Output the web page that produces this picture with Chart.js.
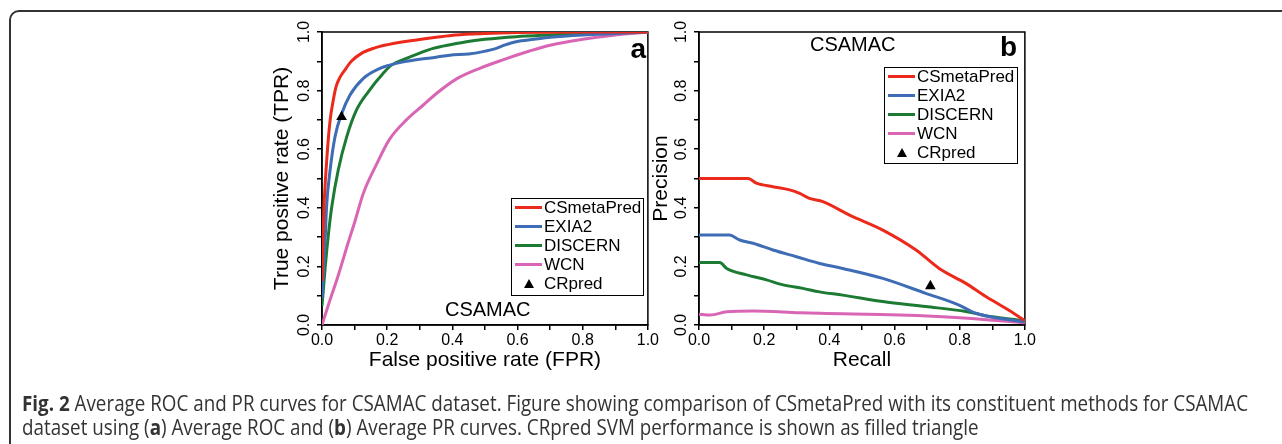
<!DOCTYPE html>
<html>
<head>
<meta charset="utf-8">
<script src="https://cdn.jsdelivr.net/npm/chart.js@4"></script>
<style>
  body { margin:0; width:1282px; height:444px; overflow:hidden; background:#fff; position:relative;
         font-family:"Liberation Sans", Arial, sans-serif; }
  #box { position:absolute; left:9px; top:10px; width:1400px; height:600px; border:2px solid #333; border-radius:10px; }
  .plot { position:absolute; top:20px; width:430px; height:375px; }
  .txt { position:absolute; white-space:nowrap; color:#000; }
  .legend { position:absolute; border:1.5px solid #000; box-sizing:border-box; background:#fff; }
  .row { position:absolute; left:0; height:19px; line-height:19px; font-size:17px; white-space:nowrap; }
  .sw { position:absolute; top:8px; left:3px; width:27px; height:3px; }
  .tri { position:absolute; top:5px; left:12px; width:0; height:0; border-left:5.5px solid transparent;
         border-right:5.5px solid transparent; border-bottom:9px solid #000; }
  .lab { position:absolute; left:32px; top:0; }
  #cap { position:absolute; left:22px; top:392px; font-family:"Open Sans", sans-serif; font-size:21px;
         line-height:23.5px; color:#333; white-space:nowrap; transform-origin:0 0; }
</style>
</head>
<body>
<div id="box"></div>
<div class="plot" style="left:230px"><canvas id="roc"></canvas></div>
<div class="plot" style="left:607px"><canvas id="pr"></canvas></div>
<div id="cap"><span id="l1"><b>Fig. 2</b> Average ROC and PR curves for CSAMAC dataset. Figure showing comparison of CSmetaPred with its constituent methods for CSAMAC</span><br><span id="l2">dataset using (<b>a</b>) Average ROC and (<b>b</b>) Average PR curves. CRpred SVM performance is shown as filled triangle</span></div>
<script>
const FONT = "'Liberation Sans', Arial, sans-serif";
Chart.defaults.font.family = FONT;
Chart.defaults.color = '#000';

const methods = ['CSmetaPred', 'EXIA2', 'DISCERN', 'WCN'];
const colors = ['#ec2a1c', '#3e6db5', '#1c7a33', '#d966b4'];
const tickLabels = ['0.0', '0.2', '0.4', '0.6', '0.8', '1.0'];

// ROC curves (a)
const rocMetaFpr = [0, 0.003, 0.006, 0.016, 0.025, 0.035, 0.043, 0.055, 0.07, 0.09, 0.121, 0.16, 0.198, 0.25, 0.29, 0.35, 0.41, 0.5, 0.6, 0.8, 1.0];
const rocMetaTpr = [0.15, 0.3, 0.4, 0.586, 0.70, 0.77, 0.813, 0.845, 0.87, 0.9, 0.927, 0.945, 0.956, 0.967, 0.973, 0.982, 0.99, 0.995, 0.998, 1.0, 1.0];
const rocExiaFpr = [0, 0.005, 0.01, 0.014, 0.025, 0.04, 0.06, 0.086, 0.127, 0.178, 0.208, 0.25, 0.30, 0.35, 0.392, 0.45, 0.494, 0.535, 0.56, 0.596, 0.65, 0.7, 0.8, 0.9, 1.0];
const rocExiaTpr = [0.09, 0.2, 0.3, 0.404, 0.53, 0.643, 0.72, 0.785, 0.842, 0.876, 0.887, 0.898, 0.907, 0.914, 0.921, 0.925, 0.933, 0.944, 0.955, 0.967, 0.975, 0.982, 0.99, 0.995, 1.0];
const rocDiscFpr = [0, 0.01, 0.02, 0.03, 0.05, 0.076, 0.106, 0.142, 0.188, 0.213, 0.259, 0.3, 0.341, 0.4, 0.443, 0.5, 0.596, 0.7, 0.8, 0.9, 1.0];
const rocDiscTpr = [0.065, 0.2, 0.313, 0.404, 0.53, 0.643, 0.734, 0.796, 0.859, 0.887, 0.91, 0.928, 0.944, 0.958, 0.967, 0.975, 0.984, 0.99, 0.995, 0.998, 1.0];
const rocWcnFpr = [0, 0.02, 0.05, 0.08, 0.10, 0.127, 0.168, 0.208, 0.259, 0.31, 0.351, 0.413, 0.484, 0.555, 0.637, 0.7, 0.8, 0.9, 1.0];
const rocWcnTpr = [0, 0.07, 0.17, 0.28, 0.35, 0.45, 0.55, 0.635, 0.70, 0.75, 0.79, 0.84, 0.876, 0.905, 0.935, 0.955, 0.975, 0.99, 1.0];
const crpredRoc = [0.06, 0.71];

// PR curves (b)
const prMetaRec = [0, 0.151, 0.176, 0.227, 0.278, 0.309, 0.339, 0.38, 0.462, 0.564, 0.666, 0.737, 0.819, 0.88, 0.941, 1.0];
const prMetaPre = [0.5, 0.5, 0.484, 0.472, 0.461, 0.449, 0.432, 0.421, 0.375, 0.324, 0.256, 0.193, 0.142, 0.097, 0.057, 0.015];
const prExiaRec = [0, 0.093, 0.125, 0.166, 0.227, 0.299, 0.37, 0.441, 0.564, 0.696, 0.798, 0.849, 0.92, 1.0];
const prExiaPre = [0.307, 0.307, 0.29, 0.279, 0.256, 0.233, 0.21, 0.193, 0.159, 0.108, 0.068, 0.04, 0.023, 0.011];
const prDiscRec = [0, 0.064, 0.085, 0.146, 0.207, 0.258, 0.319, 0.37, 0.441, 0.564, 0.696, 0.819, 0.9, 1.0];
const prDiscPre = [0.213, 0.213, 0.193, 0.171, 0.154, 0.137, 0.125, 0.113, 0.102, 0.08, 0.063, 0.046, 0.028, 0.015];
const prWcnRec = [0, 0.034, 0.085, 0.166, 0.309, 0.37, 0.615, 0.8, 1.0];
const prWcnPre = [0.037, 0.034, 0.045, 0.048, 0.042, 0.04, 0.034, 0.025, 0.008];
const crpredPr = [0.71, 0.133];

function pts(xs, ys) { return xs.map((x, i) => ({ x: x, y: ys[i] })); }

function curves(sets, marker) {
  const ds = [{
    label: 'CRpred', data: [{ x: marker[0], y: marker[1] }], showLine: false,
    pointStyle: 'triangle', pointRadius: 6.2, backgroundColor: '#000', borderColor: '#000', borderWidth: 0
  }];
  sets.forEach((s, i) => ds.push({
    label: methods[i], data: pts(s[0], s[1]), showLine: true, borderColor: colors[i],
    borderWidth: 3, pointRadius: 0, cubicInterpolationMode: 'monotone', fill: false
  }));
  return ds;
}

function tickCb(value) {
  const i = Math.round(value * 10);
  return i % 2 === 0 ? tickLabels[i / 2] : '';
}

function axis(title, isY, titlePad) {
  return {
    type: 'linear', min: 0, max: 1,
    afterFit(s) { if (isY) s.width = 92; else s.height = 70; },
    ticks: { stepSize: 0.1, autoSkip: false, color: '#000', font: { size: 16 }, padding: 1,
      callback: tickCb, minRotation: isY ? 90 : 0, maxRotation: isY ? 90 : 0, crossAlign: isY ? 'center' : 'near' },
    grid: { drawOnChartArea: false, drawTicks: true, tickLength: 5, color: '#000', lineWidth: 1.5 },
    border: { display: true, color: '#000', width: 1.5 },
    title: { display: true, text: title, color: '#000', font: { size: 21 },
      padding: isY ? { top: titlePad, bottom: 0 } : { top: 0, bottom: titlePad } }
  };
}

const frame = {
  id: 'frame',
  beforeDatasetsDraw(chart) {
    const { ctx, chartArea: a } = chart;
    ctx.save();
    ctx.strokeStyle = '#000';
    ctx.lineWidth = 1.5;
    ctx.strokeRect(a.left, a.top, a.right - a.left, a.bottom - a.top);
    ctx.restore();
  }
};

function makeChart(id, datasets, xTitle, yTitle, yPad, rightPad) {
  return new Chart(document.getElementById(id), {
    type: 'scatter',
    data: { datasets: datasets },
    options: {
      responsive: true, maintainAspectRatio: false, animation: false, events: [],
      layout: { padding: { top: 12, right: rightPad, bottom: 0, left: 0 } },
      plugins: { legend: { display: false }, tooltip: { enabled: false } },
      scales: { x: axis(xTitle, false, 22), y: axis(yTitle, true, yPad) }
    },
    plugins: [frame]
  });
}

makeChart('roc', curves([[rocMetaFpr, rocMetaTpr], [rocExiaFpr, rocExiaTpr], [rocDiscFpr, rocDiscTpr], [rocWcnFpr, rocWcnTpr]], crpredRoc),
  'False positive rate (FPR)', 'True positive rate (TPR)', 40, 12);
makeChart('pr', curves([[prMetaRec, prMetaPre], [prExiaRec, prExiaPre], [prDiscRec, prDiscPre], [prWcnRec, prWcnPre]], crpredPr),
  'Recall', 'Precision', 42, 11);

// text overlays
function text(str, x, baseline, size, bold, alignRight) {
  const d = document.createElement('div');
  d.className = 'txt';
  d.textContent = str;
  d.style.fontSize = size + 'px';
  d.style.lineHeight = size + 'px';
  d.style.fontWeight = bold ? 'bold' : 'normal';
  d.style.top = (baseline - 0.8465 * size) + 'px';
  if (alignRight) d.style.right = (1282 - x) + 'px'; else d.style.left = x + 'px';
  document.body.appendChild(d);
}
text('a', 646, 59, 28, true, true);
text('b', 1017, 57, 28, true, true);
text('CSAMAC', 445, 316, 20, false, false);
text('CSAMAC', 810, 50.5, 20, false, false);

function legend(left, top, width, height) {
  const box = document.createElement('div');
  box.className = 'legend';
  Object.assign(box.style, { left: left + 'px', top: top + 'px', width: width + 'px', height: height + 'px' });
  methods.concat(['CRpred']).forEach((name, i) => {
    const r = document.createElement('div');
    r.className = 'row';
    r.style.top = (19 * i - 1.5) + 'px';
    const mark = document.createElement('div');
    if (i < methods.length) { mark.className = 'sw'; mark.style.background = colors[i]; }
    else mark.className = 'tri';
    const lab = document.createElement('span');
    lab.className = 'lab';
    lab.textContent = name;
    r.appendChild(mark); r.appendChild(lab);
    box.appendChild(r);
  });
  document.body.appendChild(box);
}
legend(511, 198, 133, 98);
legend(884, 67, 134, 97);

// fit caption line width
const cap = document.getElementById('cap');
const w = document.getElementById('l1').getBoundingClientRect().width;
cap.style.transform = 'scaleX(' + (1226 / w) + ')';
</script>
</body>
</html>
